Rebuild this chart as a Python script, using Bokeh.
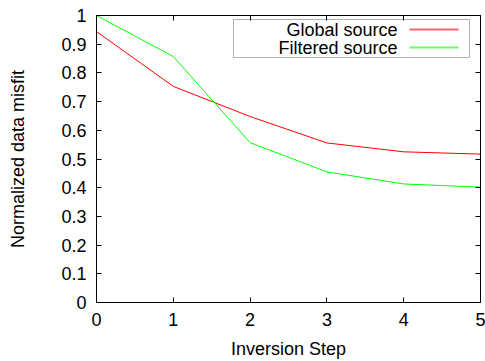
from bokeh.plotting import figure
from bokeh.models import (Range1d, LinearAxis, Label, BoxAnnotation,
                          FixedTicker, CustomJSTickFormatter)
from bokeh.embed import file_html
from bokeh.resources import INLINE

steps = [0, 1, 2, 3, 4, 5]
global_source = [0.944, 0.753, 0.648, 0.556, 0.525, 0.517]
filtered_source = [1.0, 0.857, 0.557, 0.455, 0.413, 0.402]
series_names = ["Global source", "Filtered source"]
series_colors = ["#ff0000", "#00ff00"]
x_ticks = [0, 1, 2, 3, 4, 5]
y_ticks = [0, 0.1, 0.2, 0.3, 0.4, 0.5, 0.6, 0.7, 0.8, 0.9, 1.0]

FONT = "Liberation Sans"
FS = "18px"

p = figure(width=485, height=361, output_backend="svg", toolbar_location=None,
           x_range=Range1d(0, 5), y_range=Range1d(0, 1),
           min_border_left=96, min_border_right=5, min_border_top=15,
           min_border_bottom=59)
p.xgrid.visible = False
p.ygrid.visible = False
p.outline_line_color = "black"
p.background_fill_color = "white"
p.border_fill_color = "white"

p.line(steps, global_source, line_color=series_colors[0], line_width=1)
p.line(steps, filtered_source, line_color=series_colors[1], line_width=1)

fmt = CustomJSTickFormatter(code="return String(Math.round(tick*10)/10);")

def style(ax, labels=True):
    ax.axis_line_color = "black"
    ax.axis_line_width = 1
    ax.major_tick_in = 5
    ax.major_tick_out = 0
    ax.minor_tick_line_color = None
    ax.major_tick_line_color = "black"
    ax.major_label_text_font = FONT
    ax.major_label_text_color = "black"
    ax.axis_label_text_font = FONT
    ax.axis_label_text_font_size = FS
    ax.axis_label_text_font_style = "normal"
    ax.axis_label_text_color = "black"
    if labels:
        ax.major_label_text_font_size = FS
        ax.major_label_standoff = 10
    else:
        ax.major_label_text_font_size = "0px"
        ax.major_label_standoff = 0

xa = p.xaxis[0]
xa.ticker = FixedTicker(ticks=x_ticks)
xa.formatter = fmt
xa.axis_label = "Inversion Step"
xa.axis_label_standoff = 10
style(xa)

ya = p.yaxis[0]
ya.ticker = FixedTicker(ticks=y_ticks)
ya.formatter = fmt
ya.axis_label = "Normalized data misfit"
ya.axis_label_standoff = 30
style(ya)

top = LinearAxis(ticker=FixedTicker(ticks=x_ticks), formatter=fmt)
style(top, labels=False)
p.add_layout(top, "above")
right = LinearAxis(ticker=FixedTicker(ticks=y_ticks), formatter=fmt)
style(right, labels=False)
p.add_layout(right, "right")

# gnuplot-style key: box, right-aligned text, sample line on the right
box = BoxAnnotation(left=137, right=373, top=283, bottom=245,
                    left_units="screen", right_units="screen",
                    top_units="screen", bottom_units="screen",
                    fill_color=None, line_color="black", line_width=1)
p.add_layout(box)

for name, color, yc in zip(series_names, series_colors, [273, 255]):
    p.add_layout(Label(x=301, y=yc - 0.5, x_units="screen", y_units="screen",
                       text=name, text_align="right", text_baseline="middle",
                       text_font=FONT, text_font_size=FS, text_color="black"))
    p.add_layout(BoxAnnotation(left=313, right=362, top=yc + 1, bottom=yc - 1,
                               left_units="screen", right_units="screen",
                               top_units="screen", bottom_units="screen",
                               fill_color=color, fill_alpha=0.6, line_color=None))

open("out.html", "w").write(file_html(p, INLINE))
